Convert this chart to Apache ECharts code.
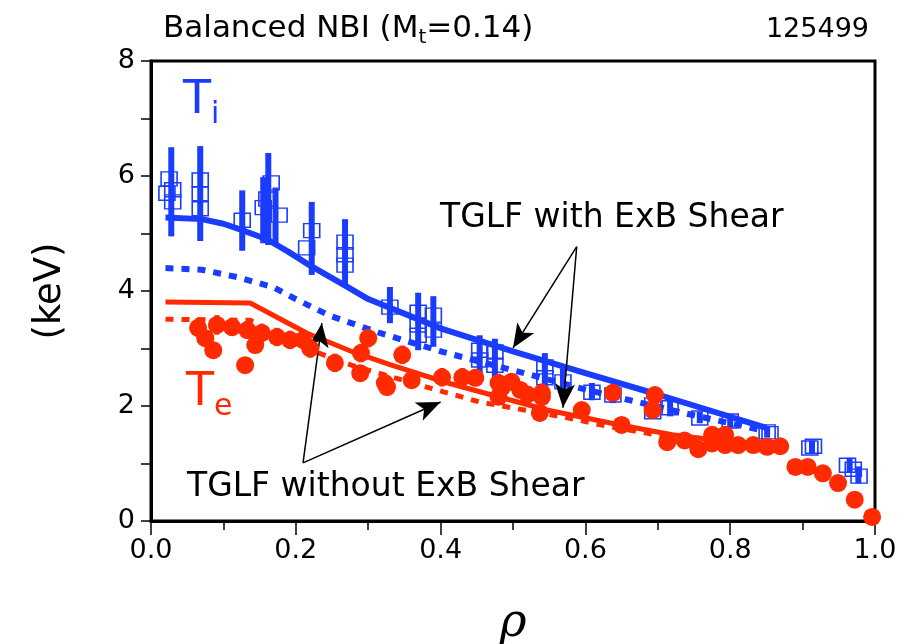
<!DOCTYPE html>
<html>
<head>
<meta charset="utf-8">
<script src="https://cdn.jsdelivr.net/npm/echarts@6/dist/echarts.min.js"></script>
<style>
  html, body { margin: 0; padding: 0; background: #fff; }
  #chart { width: 909px; height: 644px; }
</style>
</head>
<body>
<div id="chart"></div>
<script>
// measured Ti (open squares)
const tiRho = [0.025, 0.03, 0.03, 0.022, 0.068, 0.068, 0.068, 0.126, 0.155, 0.166, 0.177, 0.16,
  0.215, 0.222, 0.268, 0.268, 0.268, 0.33, 0.369, 0.369, 0.369, 0.39, 0.39, 0.454, 0.454,
  0.475, 0.475, 0.544, 0.544, 0.569, 0.609, 0.638, 0.693, 0.693, 0.717, 0.758, 0.8, 0.851, 0.855,
  0.91, 0.915, 0.962, 0.97, 0.978]
const tiVal = [5.95, 5.76, 5.55, 5.7, 5.93, 5.69, 5.43, 5.23, 5.45, 5.88, 5.32, 5.6,
  4.75, 5.05, 4.85, 4.63, 4.45, 3.72, 3.63, 3.41, 3.23, 3.58, 3.32, 2.97, 2.8,
  2.94, 2.71, 2.68, 2.49, 2.42, 2.24, 2.19, 2.02, 1.9, 1.97, 1.79, 1.74, 1.55, 1.52,
  1.27, 1.3, 0.97, 0.9, 0.78]

// Ti error bars
const tiBarRho = [0.028, 0.068, 0.126, 0.155, 0.162, 0.172, 0.222, 0.268, 0.33, 0.369, 0.39,
  0.454, 0.475, 0.544, 0.569, 0.609, 0.638, 0.693, 0.717, 0.758, 0.8, 0.851, 0.913, 0.965, 0.977]
const tiBarLo = [4.95, 4.87, 4.7, 4.83, 4.8, 4.82, 4.28, 4.07, 3.44, 2.97, 3.03,
  2.57, 2.5, 2.33, 2.2, 2.1, 2.05, 1.8, 1.82, 1.7, 1.62, 1.45, 1.18, 0.85, 0.65]
const tiBarHi = [6.5, 6.52, 5.75, 5.98, 6.4, 5.8, 5.55, 5.25, 4.07, 3.97, 3.91,
  3.23, 3.17, 2.92, 2.65, 2.4, 2.35, 2.15, 2.12, 1.9, 1.85, 1.65, 1.4, 1.1, 0.95]

// measured Te (filled circles)
const teRho = [0.065, 0.075, 0.086, 0.091, 0.112, 0.13, 0.133, 0.144, 0.153, 0.174, 0.192, 0.21,
  0.22, 0.254, 0.289, 0.29, 0.3, 0.323, 0.326, 0.347, 0.36, 0.402, 0.43, 0.448, 0.48, 0.48,
  0.485, 0.498, 0.51, 0.52, 0.54, 0.54, 0.537, 0.595, 0.638, 0.65, 0.696, 0.693, 0.713, 0.737,
  0.756, 0.775, 0.775, 0.793, 0.793, 0.811, 0.832, 0.851, 0.869, 0.89, 0.907, 0.928, 0.949,
  0.972, 0.996]
const teVal = [3.36, 3.18, 2.97, 3.41, 3.37, 2.71, 3.32, 3.06, 3.27, 3.2, 3.15, 3.15,
  3.0, 2.75, 2.57, 2.92, 3.18, 2.4, 2.33, 2.89, 2.45, 2.5, 2.5, 2.49, 2.4, 2.16,
  2.33, 2.42, 2.28, 2.2, 2.23, 2.16, 1.88, 1.93, 2.23, 1.67, 2.19, 1.93, 1.37, 1.4,
  1.25, 1.5, 1.35, 1.5, 1.32, 1.32, 1.32, 1.29, 1.3, 0.94, 0.94, 0.83, 0.66,
  0.37, 0.07]

// Te error bars
const teBarRho = [0.065, 0.091, 0.112, 0.133, 0.153, 0.174, 0.192, 0.21, 0.22, 0.254, 0.3, 0.29,
  0.347, 0.402, 0.43, 0.48, 0.54, 0.595, 0.638, 0.696]
const teBarLo = [3.2, 3.24, 3.22, 3.17, 3.12, 3.04, 2.99, 2.99, 2.84, 2.59, 3.02, 2.76,
  2.73, 2.34, 2.34, 2.24, 2.07, 1.8, 2.1, 2.05]
const teBarHi = [3.53, 3.58, 3.53, 3.48, 3.43, 3.36, 3.31, 3.31, 3.16, 2.91, 3.34, 3.08,
  3.05, 2.66, 2.66, 2.56, 2.39, 2.06, 2.36, 2.33]

// TGLF predictions
const tiExbRho = [0.02, 0.07, 0.1, 0.13, 0.16, 0.19, 0.22, 0.27, 0.3, 0.4, 0.5, 0.6, 0.7, 0.85]
const tiExbVal = [5.28, 5.25, 5.17, 5.04, 4.9, 4.68, 4.44, 4.08, 3.86, 3.35, 2.95, 2.57, 2.2, 1.62]
const tiNoExbRho = [0.02, 0.07, 0.12, 0.17, 0.2, 0.247, 0.316, 0.403, 0.51, 0.602, 0.735, 0.85]
const tiNoExbVal = [4.4, 4.37, 4.24, 4.06, 3.86, 3.57, 3.27, 2.94, 2.59, 2.28, 1.88, 1.56]
const teExbRho = [0.02, 0.137, 0.215, 0.279, 0.33, 0.41, 0.547, 0.648, 0.72, 0.85]
const teExbVal = [3.81, 3.79, 3.27, 2.94, 2.72, 2.4, 1.93, 1.67, 1.5, 1.3]
const teNoExbRho = [0.02, 0.137, 0.215, 0.279, 0.386, 0.454, 0.569, 0.63, 0.72, 0.85]
const teNoExbVal = [3.51, 3.49, 3.0, 2.7, 2.31, 2.07, 1.81, 1.65, 1.45, 1.22]

// annotation arrows, data coords [rho, keV]
const withFrom = [0.588, 4.77]
const withTo = [[0.5, 3.01], [0.569, 1.97]]
const withoutFrom = [0.21, 1.01]
const withoutTo = [[0.236, 3.44], [0.4, 2.07]]

const BLUE = '#1a3cff'
const RED = '#ff2a00'
const FONT = 'DejaVu Sans'

const zip = (xs, ys) => xs.map((x, i) => [x, ys[i]])
const zip3 = (xs, a, b) => xs.map((x, i) => [x, a[i], b[i]])

const errorBar = (color, w) => (params, api) => {
  const top = api.coord([api.value(0), api.value(2)])
  const bot = api.coord([api.value(0), api.value(1)])
  return {
    type: 'rect',
    shape: { x: top[0] - w / 2, y: top[1], width: w, height: bot[1] - top[1] },
    style: { fill: color }
  }
}

const arrowLines = (from, tos) => tos.map(t => [{ coord: from }, { coord: t }])

const chart = echarts.init(document.getElementById('chart'))

chart.setOption({
  animation: false,
  backgroundColor: '#fff',
  textStyle: { fontFamily: FONT },
  grid: {
    left: 151, right: 34, top: 61, bottom: 123,
    outerBoundsMode: 'none', containLabel: false,
    show: true, borderColor: '#000', borderWidth: 3, backgroundColor: 'transparent'
  },
  xAxis: {
    type: 'value', min: 0, max: 1, interval: 0.2,
    axisLine: { lineStyle: { color: '#000', width: 3 } },
    axisTick: { inside: false, length: 14, lineStyle: { color: '#000', width: 1.5 } },
    minorTick: { show: true, splitNumber: 2, length: 9, lineStyle: { color: '#000', width: 1.5 } },
    splitLine: { show: false },
    axisLabel: { fontSize: 27, color: '#000', margin: 16, formatter: v => v.toFixed(1) },
    name: 'ρ', nameLocation: 'middle', nameGap: 80,
    nameTextStyle: { fontSize: 46, fontStyle: 'italic', color: '#000', fontFamily: 'DejaVu Serif' }
  },
  yAxis: {
    type: 'value', min: 0, max: 8, interval: 2,
    axisLine: { lineStyle: { color: '#000', width: 3 } },
    axisTick: { inside: false, length: 10, lineStyle: { color: '#000', width: 1.5 } },
    minorTick: { show: true, splitNumber: 2, length: 10, lineStyle: { color: '#000', width: 1.5 } },
    splitLine: { show: false },
    axisLabel: { fontSize: 27, color: '#000', margin: 16 },
    name: '(keV)', nameLocation: 'middle', nameGap: 82, nameRotate: 90,
    nameTextStyle: { fontSize: 37, color: '#000' }
  },
  graphic: [
    {
      type: 'text', left: 163, top: 13,
      style: {
        text: '{n|Balanced NBI (M}{s|t}{n|=0.14)}',
        rich: {
          n: { fontSize: 31, fontFamily: FONT, fill: '#000' },
          s: { fontSize: 20, fontFamily: FONT, fill: '#000', padding: [18, 0, 0, 0] }
        }
      }
    },
    { type: 'text', right: 40, top: 16, style: { text: '125499', fontSize: 27, fontFamily: FONT, fill: '#000' } },
    {
      type: 'text', left: 183, top: 78,
      style: {
        text: '{b|T}{s|i}',
        rich: {
          b: { fontSize: 46, fontFamily: FONT, fill: BLUE },
          s: { fontSize: 30, fontFamily: FONT, fill: BLUE, padding: [28, 0, 0, 0] }
        }
      }
    },
    {
      type: 'text', left: 186, top: 370,
      style: {
        text: '{b|T}{s|e}',
        rich: {
          b: { fontSize: 46, fontFamily: FONT, fill: RED },
          s: { fontSize: 30, fontFamily: FONT, fill: RED, padding: [28, 0, 0, 0] }
        }
      }
    },
    {
      type: 'text', left: 440, top: 202,
      style: { text: 'TGLF with ExB Shear', fontSize: 33, fontFamily: FONT, fill: '#000' }
    },
    {
      type: 'text', left: 187, top: 471,
      style: { text: 'TGLF without ExB Shear', fontSize: 33, fontFamily: FONT, fill: '#000' }
    }
  ],
  series: [
    {
      type: 'line', data: zip(tiNoExbRho, tiNoExbVal), showSymbol: false, z: 2,
      lineStyle: { color: BLUE, width: 6, type: [8, 8] }
    },
    {
      type: 'line', data: zip(tiExbRho, tiExbVal), showSymbol: false, z: 2,
      lineStyle: { color: BLUE, width: 6 }
    },
    {
      type: 'line', data: zip(teNoExbRho, teNoExbVal), showSymbol: false, z: 2,
      lineStyle: { color: RED, width: 5, type: [8, 8] }
    },
    {
      type: 'line', data: zip(teExbRho, teExbVal), showSymbol: false, z: 2,
      lineStyle: { color: RED, width: 5 }
    },
    {
      type: 'scatter', data: zip(tiRho, tiVal), symbol: 'rect', symbolSize: [16, 14], z: 3, clip: false,
      itemStyle: { color: 'rgba(255,255,255,0)', borderColor: BLUE, borderWidth: 1.5, opacity: 1 }
    },
    {
      type: 'custom', data: zip3(tiBarRho, tiBarLo, tiBarHi), renderItem: errorBar(BLUE, 6), z: 4, clip: false
    },
    {
      type: 'custom', data: zip3(teBarRho, teBarLo, teBarHi), renderItem: errorBar(RED, 5), z: 5, clip: false
    },
    {
      type: 'scatter', data: zip(teRho, teVal), symbol: 'circle', symbolSize: 18, z: 5, clip: false,
      itemStyle: { color: RED, opacity: 1 }
    },
    {
      type: 'line', data: [], z: 6,
      markLine: {
        silent: true, symbol: ['none', 'arrow'], symbolSize: [15, 24],
        label: { show: false },
        lineStyle: { color: '#000', width: 1.5, type: 'solid' },
        data: arrowLines(withFrom, withTo).concat(arrowLines(withoutFrom, withoutTo))
      }
    }
  ]
})
</script>
</body>
</html>
